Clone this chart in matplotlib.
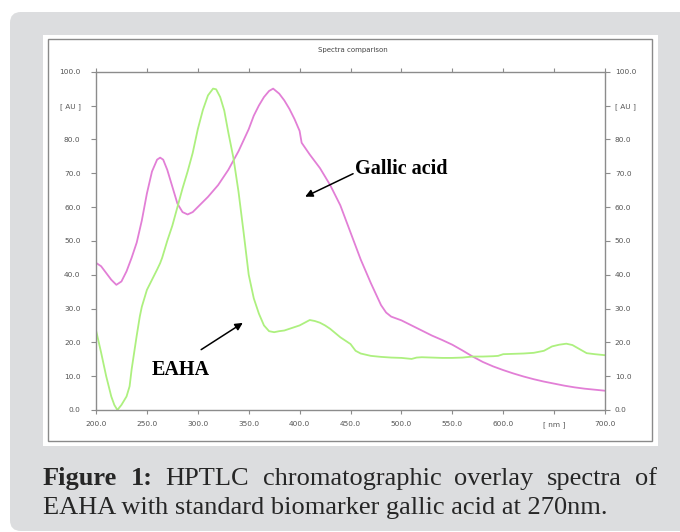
import matplotlib
matplotlib.use("Agg")
import matplotlib.pyplot as plt
from matplotlib.patches import FancyBboxPatch, Rectangle
from matplotlib.lines import Line2D

gallic_nm = [200, 205, 210, 215, 220, 225, 230, 235, 240, 245, 250, 255, 260, 263, 266,
             270, 275, 280, 285, 290, 295, 300, 310, 320, 330, 340, 350, 355, 360, 365,
             370, 374, 380, 385, 390, 395, 400, 402, 410, 420, 430, 440, 450, 460, 470,
             480, 485, 490, 500, 510, 520, 530, 540, 550, 560, 570, 580, 590, 600, 610,
             620, 630, 640, 650, 660, 670, 680, 690, 700]
gallic_au = [43.5, 42.5, 40.5, 38.5, 37.0, 38.0, 41.0, 45.0, 49.5, 56.0, 64.0, 70.5, 74.0, 74.6, 74.0,
             71.0, 66.0, 61.0, 58.5, 57.8, 58.5, 60.0, 63.0, 66.5, 71.0, 76.5, 83.0, 87.0, 90.0, 92.5,
             94.3, 95.0, 93.5, 91.5, 89.0, 86.0, 82.5, 79.0, 75.5, 71.5, 66.5, 60.5, 52.5, 44.5, 37.5,
             31.0, 28.8, 27.6, 26.5, 25.0, 23.5, 22.0, 20.7, 19.3, 17.6, 15.8, 14.2, 12.9, 11.8, 10.8,
             9.9, 9.1, 8.4, 7.8, 7.2, 6.7, 6.3, 6.0, 5.7]

eaha_nm = [200, 205, 210, 215, 218, 221, 225, 230, 233, 235, 240, 243, 245, 250, 255, 260, 263,
           265, 270, 275, 280, 285, 290, 295, 300, 305, 310, 315, 318, 322, 326, 330, 335, 340,
           345, 350, 355, 360, 365, 370, 375, 380, 385, 390, 395, 400, 405, 410, 415, 420, 425,
           430, 440, 450, 455, 460, 470, 480, 490, 500, 510, 515, 520, 530, 540, 550, 560, 570,
           580, 590, 595, 600, 610, 620, 630, 640, 648, 655, 662, 668, 675, 682, 690, 700]
eaha_au = [23.6, 17.0, 10.0, 4.0, 1.5, 0.0, 1.5, 4.0, 7.0, 12.0, 22.0, 27.6, 30.5, 35.5, 38.5, 41.5, 43.4,
           45.0, 50.0, 54.5, 60.0, 65.5, 70.5, 76.0, 83.0, 88.7, 93.0, 95.0, 94.8, 92.5, 88.5, 82.0, 74.5, 64.5,
           52.5, 40.0, 33.0, 28.5, 25.0, 23.3, 23.0, 23.3, 23.5, 24.0, 24.5, 25.0, 25.8, 26.6, 26.3, 25.8, 25.0,
           24.0, 21.5, 19.5, 17.5, 16.7, 16.0, 15.7, 15.5, 15.4, 15.1, 15.5, 15.6, 15.5, 15.4, 15.4, 15.5, 15.8,
           15.8, 15.9, 16.0, 16.5, 16.6, 16.7, 16.9, 17.5, 18.8, 19.3, 19.6, 19.2, 18.0, 16.8, 16.5, 16.2]

y_ticks = [0, 10, 20, 30, 40, 50, 60, 70, 80, 90, 100]
y_labels = ["0.0", "10.0", "20.0", "30.0", "40.0", "50.0", "60.0", "70.0", "80.0", "[ AU ]", "100.0"]
x_ticks = [200, 250, 300, 350, 400, 450, 500, 550, 600, 650, 700]
x_labels = ["200.0", "250.0", "300.0", "350.0", "400.0", "450.0", "500.0", "550.0", "600.0", "[ nm ]", "700.0"]

W, H = 680, 532
fig = plt.figure(figsize=(W / 100, H / 100), dpi=100)
fig.patch.set_facecolor("white")


def px_box(x0, y0, x1, y1):
    # pixel box (top-left origin) -> figure fraction rect
    return x0 / W, 1 - y1 / H, (x1 - x0) / W, (y1 - y0) / H


# gray rounded background
bx, by, bw, bh = px_box(10, 12, 700, 531)
fig.patches.append(FancyBboxPatch((bx, by), bw, bh, boxstyle="round,pad=0,rounding_size=0.016",
                                  transform=fig.transFigure, facecolor="#dcdddf", edgecolor="none",
                                  mutation_aspect=W / H, zorder=0))
# white panel, thin gray frame, dark shadow on right and bottom
px, py, pw, ph = px_box(43, 35, 658, 446)
fig.patches.append(Rectangle((px, py), pw, ph, transform=fig.transFigure,
                             facecolor="white", edgecolor="none", zorder=1))
ix, iy, iw, ih = px_box(48, 39, 652, 441)
fig.patches.append(Rectangle((ix, iy), iw, ih, transform=fig.transFigure,
                             facecolor="white", edgecolor="#8a8a8a", linewidth=1.0, zorder=1))
fig.lines.append(Line2D([653.5 / W, 653.5 / W, 49 / W], [1 - 40 / H, 1 - 442.5 / H, 1 - 442.5 / H],
                        transform=fig.transFigure, color="#4a4a4a", linewidth=2.0, zorder=1))

ax = fig.add_axes(px_box(96, 71.7, 605, 410))
ax.set_zorder(2)
ax.patch.set_alpha(0)

ax.plot(gallic_nm, gallic_au, color="#e27fd6", lw=1.3)
ax.plot(eaha_nm, eaha_au, color="#adf07f", lw=1.3)

ax.set_xlim(200, 700)
ax.set_ylim(0, 100)
for side in ["left", "right", "top", "bottom"]:
    ax.spines[side].set_color("#8c8c8c")
    ax.spines[side].set_linewidth(1.0)

ax.set_yticks(y_ticks)
ax.set_yticklabels(y_labels)
ax.set_xticks(x_ticks)
ax.set_xticklabels(x_labels)
ax.tick_params(axis="y", left=True, right=False, direction="out", length=3.6, width=0.8,
               color="#8c8c8c", labelsize=5.3, labelcolor="#555555", pad=7.5)
ax.tick_params(axis="x", bottom=True, top=True, direction="out", length=3, width=0.8,
               color="#8c8c8c", labelsize=5.3, labelcolor="#555555", pad=5)

# right-hand scale repeats the left one
ax2 = ax.twinx()
ax2.set_ylim(0, 100)
ax2.set_yticks(y_ticks)
ax2.set_yticklabels(y_labels)
ax2.tick_params(axis="y", direction="out", length=3.6, width=0.8, color="#8c8c8c",
                labelsize=5.3, labelcolor="#555555", pad=3.5)
for side in ["left", "right", "top", "bottom"]:
    ax2.spines[side].set_visible(False)

ax.text(0.505, 1.064, "Spectra comparison", transform=ax.transAxes, ha="center", va="center",
        fontsize=5.0, color="#444444")

# annotations
ax.text(454.5, 71.3, "Gallic acid", family="Liberation Serif", fontweight="bold", fontsize=14.5,
        ha="left", va="center", color="black")
ax.annotate("", xy=(403, 62.7), xytext=(455, 70.2),
            arrowprops=dict(arrowstyle="-|>", color="black", lw=1.1, mutation_scale=11))
ax.text(283, 11.8, "EAHA", family="Liberation Serif", fontweight="bold", fontsize=14.5,
        ha="center", va="center", color="black")
ax.annotate("", xy=(346.5, 26.2), xytext=(301, 17.4),
            arrowprops=dict(arrowstyle="-|>", color="black", lw=1.1, mutation_scale=11))

# caption, first line justified
line1 = [("Figure", "bold"), ("1:", "bold"), ("HPTLC", "normal"), ("chromatographic", "normal"),
         ("overlay", "normal"), ("spectra", "normal"), ("of", "normal")]
cap_size = 19
left_px, right_px = 43, 657
words = []
for w, wt in line1:
    t = fig.text(left_px / W, 1 - 485 / H, w, family="Liberation Serif", fontweight=wt,
                 fontsize=cap_size, color="#262626", ha="left", va="baseline")
    words.append(t)
fig.canvas.draw()
r = fig.canvas.get_renderer()
widths = [t.get_window_extent(r).width for t in words]
gap = (right_px - left_px - sum(widths)) / (len(words) - 1)
x = left_px
for t, wd in zip(words, widths):
    t.set_x(x / W)
    x += wd + gap

fig.text(left_px / W, 1 - 514 / H, "EAHA with standard biomarker gallic acid at 270nm.",
         family="Liberation Serif", fontsize=cap_size, color="#262626", ha="left", va="baseline")

fig.savefig("out.png", dpi=100)
